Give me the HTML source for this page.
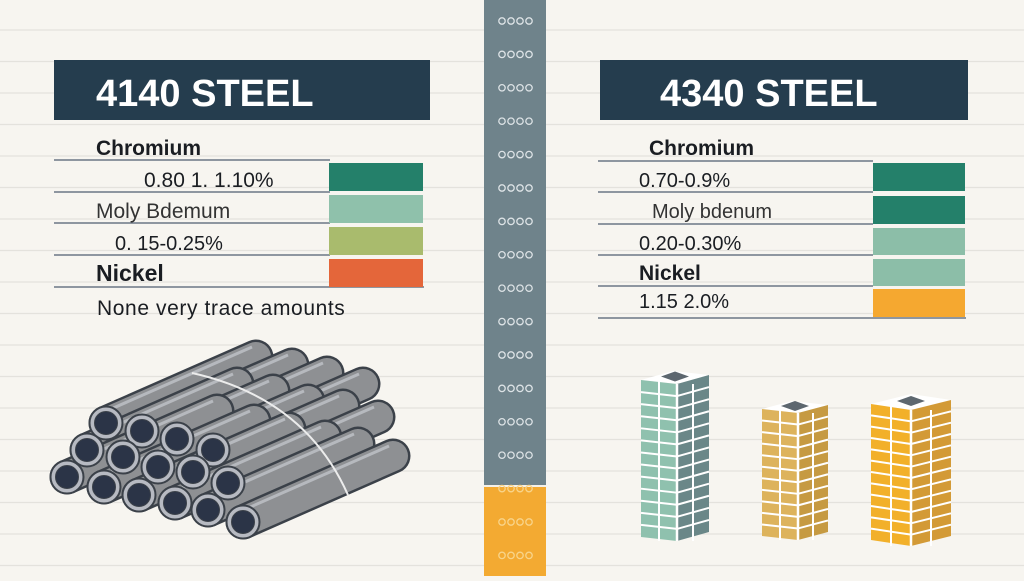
<!DOCTYPE html>
<html><head><meta charset="utf-8"><style>
html,body{margin:0;padding:0;}
body{width:1024px;height:576px;overflow:hidden;background:#f7f5f0;}
svg text{font-family:"Liberation Sans","DejaVu Sans",sans-serif;}
</style></head><body>
<svg id="s" width="1024" height="576" viewBox="0 0 1024 576" xmlns="http://www.w3.org/2000/svg">
<rect width="1024" height="576" fill="#f7f5f0"/>
<g id="bg" stroke="#e4e2dd" stroke-width="1.2"></g>

<rect x="484" y="0" width="62" height="486" fill="#6f838b"/>
<rect x="484" y="486" width="62" height="90" fill="#f3aa32"/>
<line x1="484" y1="486" x2="546" y2="486" stroke="#f4f1ea" stroke-width="2"/>
<g id="dots" fill="none" stroke-width="1.3"></g>

<rect x="54" y="60" width="376" height="60" fill="#253d4e"/>
<text x="96" y="106" font-size="38" font-weight="bold" fill="#fff">4140 STEEL</text>
<g stroke="#6c7785" stroke-width="1.5">
<line x1="54" y1="160" x2="330" y2="160"/><line x1="54" y1="192" x2="330" y2="192"/>
<line x1="54" y1="223" x2="330" y2="223"/><line x1="54" y1="255" x2="330" y2="255"/>
<line x1="54" y1="287" x2="424" y2="287"/></g>
<rect x="329" y="163" width="94" height="28" fill="#24806a"/>
<rect x="329" y="195" width="94" height="28" fill="#8fc1ab"/>
<rect x="329" y="227" width="94" height="28" fill="#a9bb6d"/>
<rect x="329" y="259" width="94" height="28" fill="#e4663a"/>
<g fill="#1a1d22">
<text x="96" y="155" font-size="21" font-weight="bold">Chromium</text>
<text x="144" y="187" font-size="21">0.80 1.  1.10%</text>
<text x="96" y="218" font-size="21" fill="#333">Moly Bdemum</text>
<text x="115" y="250" font-size="20">0. 15-0.25%</text>
<text x="96" y="281" font-size="23" font-weight="bold">Nickel</text>
<text x="97" y="315" font-size="21" letter-spacing="0.6">None  very  trace  amounts</text>
</g>

<rect x="600" y="60" width="368" height="60" fill="#253d4e"/>
<text x="660" y="106" font-size="38" font-weight="bold" fill="#fff">4340 STEEL</text>
<g stroke="#6c7785" stroke-width="1.5">
<line x1="598" y1="161" x2="873" y2="161"/><line x1="598" y1="192" x2="873" y2="192"/>
<line x1="598" y1="224" x2="873" y2="224"/><line x1="598" y1="255" x2="873" y2="255"/>
<line x1="598" y1="286" x2="873" y2="286"/><line x1="598" y1="318" x2="966" y2="318"/></g>
<rect x="873" y="163" width="92" height="28" fill="#24806a"/>
<rect x="873" y="196" width="92" height="28" fill="#24806a"/>
<rect x="873" y="228" width="92" height="27" fill="#8cbea8"/>
<rect x="873" y="259" width="92" height="27" fill="#8cbea8"/>
<rect x="873" y="289" width="92" height="28" fill="#f5a830"/>
<g fill="#1a1d22">
<text x="649" y="155" font-size="21" font-weight="bold">Chromium</text>
<text x="639" y="187" font-size="20">0.70-0.9%</text>
<text x="652" y="218" font-size="20" fill="#333">Moly bdenum</text>
<text x="639" y="250" font-size="20">0.20-0.30%</text>
<text x="639" y="280" font-size="21" font-weight="bold">Nickel</text>
<text x="639" y="308" font-size="20">1.15 2.0%</text>
</g>

<g id="pipes"></g>
<g id="faces"></g>
<path d="M192,373 Q305,398 348,495" fill="none" stroke="#ececec" stroke-width="2"/>
<g id="bld"></g>
</svg>
<script>
var NS="http://www.w3.org/2000/svg";
function el(p,t,a){var e=document.createElementNS(NS,t);for(var k in a)e.setAttribute(k,a[k]);p.appendChild(e);return e;}
var bg=document.getElementById('bg');
for(var y=30;y<576;y+=31.5){el(bg,'line',{x1:0,y1:y,x2:1024,y2:y});}
var dots=document.getElementById('dots');
for(var i=0;i<17;i++){var yy=21+i*33.4;var c=yy>486?'#f8d48a':'#dde3e6';
 for(var j=0;j<4;j++)el(dots,'circle',{cx:502+j*9,cy:yy,r:3.2,stroke:c});}
var P=document.getElementById('pipes'),F=document.getElementById('faces');
var rows=[[[106,423],[142,431],[177,439],[213,450]],
[[87,450],[123,457],[158,467],[193,472],[228,483]],
[[67,477],[104,487],[139,495],[175,503],[208,510],[243,522]]];
var dx=150,dy=-66;
rows.forEach(function(r){r.forEach(function(p){
 var x=p[0],y=p[1];
 el(P,'line',{x1:x,y1:y,x2:x+dx,y2:y+dy,stroke:'#3b4149','stroke-width':35,'stroke-linecap':'round'});
 el(P,'line',{x1:x,y1:y,x2:x+dx,y2:y+dy,stroke:'#8e9093','stroke-width':30,'stroke-linecap':'round'});
 el(P,'line',{x1:x-4,y1:y-10,x2:x+dx-4,y2:y+dy-10,stroke:'#b6b9be','stroke-width':3});
 el(F,'circle',{cx:x,cy:y,r:16.5,fill:'#b7bac2',stroke:'#3b4149','stroke-width':2});
 el(F,'circle',{cx:x,cy:y,r:11.5,fill:'#2b3447',stroke:'#3b4149','stroke-width':1});
});});
var B=document.getElementById('bld');
function bld(fx,fy,fw,sk,rw,rsk,bot,fc,rc,rows){
 var x1=fx,x2=fx+fw,x3=x2+rw;
 var yTL=fy,yTR=fy+sk,yR=yTR-rsk;
 var h=bot-yTR;
 el(B,'polygon',{points:[x1,yTL,x2,yTR,x3,yR,x1+rw,yTL-rsk].join(' '),fill:'#fff'});
 var cx=(x1+x3)/2,cy=(yTL+yR)/2;
 el(B,'polygon',{points:[cx-14,cy-1,cx,cy-6,cx+14,cy-1,cx,cy+4].join(' '),fill:'#5d676f'});
 el(B,'polygon',{points:[x1,yTL,x2,yTR,x2,bot,x1,bot-sk].join(' '),fill:fc});
 el(B,'polygon',{points:[x2,yTR,x3,yR,x3,bot-rsk,x2,bot].join(' '),fill:rc});
 for(var i=1;i<rows;i++){var t=h*i/rows;
  el(B,'line',{x1:x1,y1:yTL+t,x2:x2,y2:yTR+t,stroke:'#fff','stroke-width':2});
  el(B,'line',{x1:x2,y1:yTR+t,x2:x3,y2:yR+t,stroke:'#fff','stroke-width':2});}
 el(B,'line',{x1:(x1+x2)/2,y1:yTL,x2:(x1+x2)/2,y2:bot,stroke:'#fff','stroke-width':2});
 el(B,'line',{x1:(x2+x3)/2,y1:yTR,x2:(x2+x3)/2,y2:bot,stroke:'#fff','stroke-width':2});
 el(B,'line',{x1:x2,y1:yTR,x2:x2,y2:bot,stroke:'#fff','stroke-width':2.5});
}
bld(641,380,36,4,32,9,541,'#8fc1ae','#6a8788',13);
bld(762,409,36,4,30,8,540,'#ddb35c','#c69a42',11);
bld(871,404,40,6,40,10,546,'#f2b02a','#d39a36',12);
</script>
</body></html>
